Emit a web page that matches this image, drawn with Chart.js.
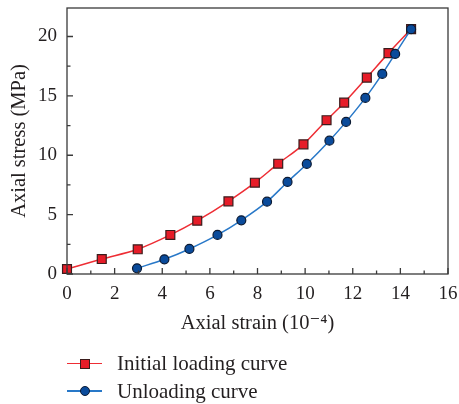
<!DOCTYPE html>
<html>
<head>
<meta charset="utf-8">
<script src="https://cdn.jsdelivr.net/npm/chart.js@4/dist/chart.umd.min.js"></script>
<style>
  body { margin: 0; background: #fff; }
  #wrap { position: relative; width: 459px; height: 404px; }
  #legend { position: absolute; left: 67px; top: 350px; font-family: "Liberation Serif", "DejaVu Serif", serif; font-size: 21px; color: #231f20; }
  .item { height: 27.5px; display: flex; align-items: center; }
  .key { position: relative; width: 35px; height: 12px; margin-right: 15px; }
  .key .ln { position: absolute; left: 0; right: 0; top: 5px; height: 1.5px; }
  .key .mk { position: absolute; left: 13px; top: 1px; width: 8px; height: 8px; border: 1px solid #3a1c1c; }
</style>
</head>
<body>
<div id="wrap">
  <canvas id="stress_chart" width="459" height="404"></canvas>
  <div id="legend">
    <div class="item"><span class="key"><span class="ln" style="background: rgb(238,45,52)"></span><span class="mk" style="background: rgb(230,28,40)"></span></span>Initial loading curve</div>
    <div class="item"><span class="key"><span class="ln" style="background: rgb(40,120,200)"></span><span class="mk" style="background: rgb(10,75,155); border-color: #0b1a33; border-radius: 50%"></span></span>Unloading curve</div>
  </div>
</div>
<script>
// values (strain in 1e-4, stress in MPa)
var loadingStrain = [0, 1.46, 2.97, 4.34, 5.47, 6.78, 7.89, 8.87, 9.93, 10.9, 11.64, 12.59, 13.5, 14.45];
var loadingStress = [0.42, 1.26, 2.08, 3.29, 4.49, 6.12, 7.69, 9.29, 10.92, 12.95, 14.43, 16.54, 18.6, 20.62];
var unloadingStrain = [2.94, 4.09, 5.14, 6.32, 7.32, 8.4, 9.26, 10.07, 11.02, 11.72, 12.53, 13.24, 13.78, 14.45];
var unloadingStress = [0.48, 1.24, 2.11, 3.29, 4.52, 6.09, 7.75, 9.27, 11.23, 12.81, 14.83, 16.85, 18.53, 20.62];

var xTicks = [0, 2, 4, 6, 8, 10, 12, 14, 16];
var yTicks = [0, 5, 10, 15, 20];

function toPoints(xs, ys) {
    var pts = [];
    for (var i = 0; i < xs.length; i++) {
        pts.push({ x: xs[i], y: ys[i] });
    }
    return pts;
}

var fontFamily = '"Liberation Serif", "DejaVu Serif", serif';
var inkColor = '#231f20';

// frame + inward major/minor ticks
var framePlugin = {
    id: 'frame',
    afterDraw: function(chart) {
        var ctx = chart.ctx;
        var a = chart.chartArea;
        var xs = chart.scales.x, ys = chart.scales.y;
        ctx.save();
        ctx.strokeStyle = '#3a3a3a';
        ctx.lineWidth = 1.3;
        ctx.strokeRect(a.left, a.top, a.right - a.left, a.bottom - a.top);
        ctx.beginPath();
        for (var v = xs.min; v <= xs.max; v += 1) {
            var px = xs.getPixelForValue(v);
            var len = (v % 2 === 0) ? 6 : 3.5;
            ctx.moveTo(px, a.bottom);
            ctx.lineTo(px, a.bottom - len);
        }
        for (var w = 0; w <= ys.max; w += 2.5) {
            var py = ys.getPixelForValue(w);
            var l2 = (w % 5 === 0) ? 6 : 3.5;
            ctx.moveTo(a.left, py);
            ctx.lineTo(a.left + l2, py);
        }
        ctx.stroke();
        ctx.restore();
    }
};

var ctxStress = document.getElementById('stress_chart').getContext('2d');

var stress_chart = new Chart(ctxStress, {
    type: 'line',
    data: {
        datasets: [{
            label: 'Initial loading curve',
            data: toPoints(loadingStrain, loadingStress),
            borderColor: 'rgb(238,45,52)',
            borderWidth: 1.5,
            backgroundColor: 'rgb(230,28,40)',
            pointStyle: 'rect',
            pointRadius: 6.3,
            pointBorderColor: '#3a1c1c',
            pointBorderWidth: 1.2,
            cubicInterpolationMode: 'monotone',
            order: 2
        }, {
            label: 'Unloading curve',
            data: toPoints(unloadingStrain, unloadingStress),
            borderColor: 'rgb(40,120,200)',
            borderWidth: 1.5,
            backgroundColor: 'rgb(10,75,155)',
            pointStyle: 'circle',
            pointRadius: 4.5,
            pointBorderColor: '#0b1a33',
            pointBorderWidth: 1.2,
            cubicInterpolationMode: 'monotone',
            order: 1
        }]
    },
    options: {
        responsive: false,
        animation: false,
        clip: false,
        layout: { padding: { top: 8, right: 11, bottom: 68, left: 0 } },
        plugins: {
            legend: { display: false },
            tooltip: { enabled: false }
        },
        scales: {
            x: {
                type: 'linear',
                min: 0,
                max: 16,
                grid: { display: false, drawTicks: false, tickLength: 0 },
                border: { display: false },
                afterBuildTicks: function(s) { s.ticks = xTicks.map(function(v) { return { value: v }; }); },
                afterFit: function(s) { s.height = 62; s.paddingLeft = 0; s.paddingRight = 0; },
                ticks: { color: inkColor, padding: 9, maxRotation: 0, font: { family: fontFamily, size: 19 } },
                title: {
                    display: true,
                    text: 'Axial strain (10\u207B\u2074)',
                    color: inkColor,
                    padding: { top: 0, bottom: 0 },
                    font: { family: fontFamily, size: 20.5 }
                }
            },
            y: {
                min: 0,
                max: 22.4,
                grid: { display: false, drawTicks: false, tickLength: 0 },
                border: { display: false },
                afterBuildTicks: function(s) { s.ticks = yTicks.map(function(v) { return { value: v }; }); },
                afterFit: function(s) { s.width = 67; s.paddingTop = 0; s.paddingBottom = 0; },
                ticks: { color: inkColor, padding: 10, font: { family: fontFamily, size: 19 } },
                title: {
                    display: true,
                    text: 'Axial stress (MPa)',
                    color: inkColor,
                    padding: { top: 7, bottom: 0 },
                    font: { family: fontFamily, size: 20.5 }
                }
            }
        }
    },
    plugins: [framePlugin]
});
</script>
</body>
</html>
